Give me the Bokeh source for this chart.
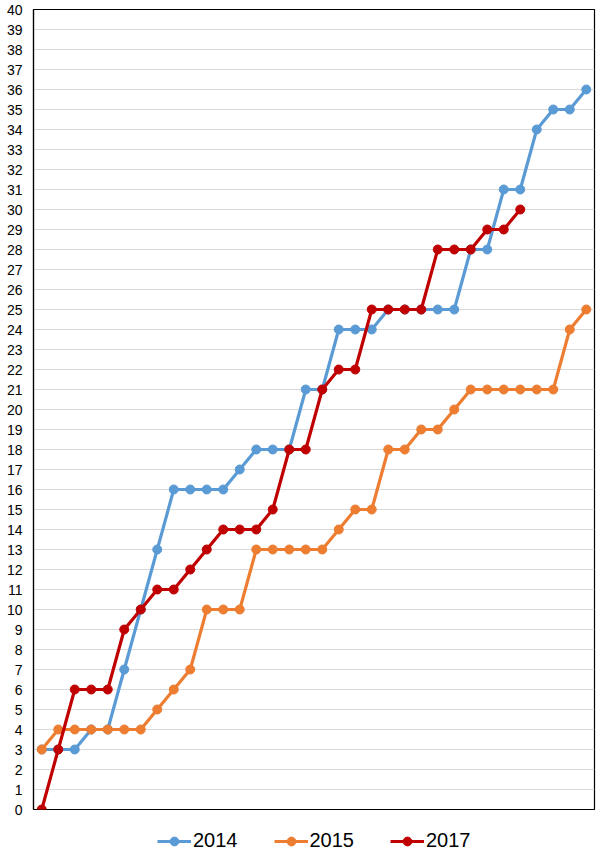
from bokeh.plotting import figure
from bokeh.layouts import column
from bokeh.models import Range1d, FixedTicker, Legend, LegendItem, ColumnDataSource
from bokeh.embed import file_html
from bokeh.resources import INLINE

# ---- data ----
x_idx = list(range(34))
s2014 = [3, 3, 3, 4, 4, 7, 10, 13, 16, 16, 16, 16, 17, 18, 18, 18, 21, 21, 24, 24,
         24, 25, 25, 25, 25, 25, 28, 28, 31, 31, 34, 35, 35, 36]
s2015 = [3, 4, 4, 4, 4, 4, 4, 5, 6, 7, 10, 10, 10, 13, 13, 13, 13, 13, 14, 15,
         15, 18, 18, 19, 19, 20, 21, 21, 21, 21, 21, 21, 24, 25]
s2017 = [0, 3, 6, 6, 6, 9, 10, 11, 11, 12, 13, 14, 14, 14, 15, 18, 18, 21, 22, 22,
         25, 25, 25, 25, 28, 28, 28, 29, 29, 30]
series_names = ["2014", "2015", "2017"]
series_values = [s2014, s2015, s2017]
series_colors = ["#5B9BD5", "#ED7D31", "#C00000"]
y_ticks = list(range(0, 41))

FONT = "Liberation Sans"

p = figure(width=596, height=816, output_backend="svg", toolbar_location=None,
           x_range=Range1d(-0.5, 33.5), y_range=Range1d(0, 40),
           x_axis_location=None, min_border_left=33, min_border_right=2,
           min_border_top=9, min_border_bottom=7)
p.background_fill_color = "white"
p.border_fill_color = "white"
p.outline_line_color = "#000000"
p.outline_line_width = 1.2

p.xgrid.visible = False
p.ygrid.ticker = FixedTicker(ticks=y_ticks)
p.ygrid.grid_line_color = "#D9D9D9"
p.ygrid.grid_line_width = 1.2

ya = p.yaxis[0]
ya.ticker = FixedTicker(ticks=y_ticks)
ya.axis_line_color = "#000000"
ya.axis_line_width = 1.2
ya.major_tick_line_color = None
ya.minor_tick_line_color = None
ya.major_label_text_font = FONT
ya.major_label_text_font_size = "14px"
ya.major_label_text_color = "#000000"
ya.major_label_standoff = 5

# legend strip (second figure whose frame holds only the legend)
lf = figure(width=596, height=37, output_backend="svg", toolbar_location=None,
            x_range=Range1d(-1000, -999), y_range=Range1d(-1000, -999),
            x_axis_location=None, y_axis_location=None,
            min_border_left=0, min_border_right=0, min_border_top=0, min_border_bottom=0)
lf.outline_line_color = None
lf.grid.visible = False
lf.background_fill_color = "white"
lf.border_fill_color = "white"

items = []
for name, vals, col in zip(series_names, series_values, series_colors):
    src = ColumnDataSource(dict(x=x_idx[:len(vals)], y=vals))
    p.line("x", "y", source=src, line_color=col, line_width=3.2)
    p.scatter("x", "y", source=src, size=9, fill_color=col, line_color=col)
    l = lf.line("x", "y", source=src, line_color=col, line_width=3.2)
    s = lf.scatter("x", "y", source=src, size=9, fill_color=col, line_color=col)
    items.append(LegendItem(label=name, renderers=[l, s]))

legend = Legend(items=items, orientation="horizontal", location=(124, 1),
                label_text_font=FONT, label_text_font_size="20px",
                label_text_color="#000000", glyph_width=34, glyph_height=22,
                label_standoff=2, spacing=36, border_line_color=None,
                background_fill_alpha=0, padding=3, margin=0)
lf.add_layout(legend, "center")

layout = column(p, lf, spacing=0)
open("out.html", "w").write(file_html(layout, INLINE))
